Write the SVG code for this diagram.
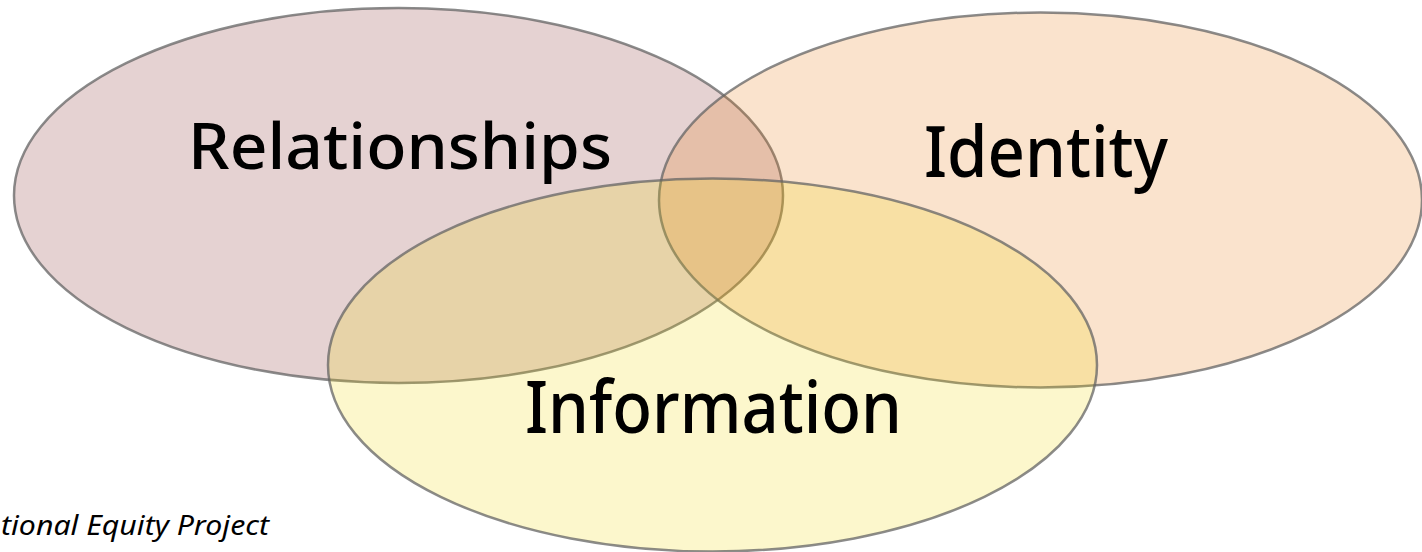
<svg xmlns="http://www.w3.org/2000/svg" width="1422" height="552" viewBox="0 0 1422 552">
<style>
.c{stroke:rgb(100,100,100);stroke-opacity:0.75;stroke-width:2.5;fill-opacity:0.2}
.t{font-family:"Noto Sans",Lato,sans-serif;fill:#000;font-variant-ligatures:none;font-weight:500}
</style>
<rect width="1422" height="552" fill="#fff"/>
<g id="relationships">
<ellipse class="c" cx="398.5" cy="195.5" rx="384.5" ry="187.5" fill="rgb(125,30,30)"/>
<text class="t" x="188" y="169" font-size="64" textLength="424" lengthAdjust="spacingAndGlyphs">Relationships</text>
</g>
<g id="identity">
<ellipse class="c" cx="1040.5" cy="200" rx="381.5" ry="187.5" fill="rgb(230,115,5)"/>
<text class="t" x="924" y="177" font-size="70" textLength="244" lengthAdjust="spacingAndGlyphs">Identity</text>
</g>
<g id="information">
<ellipse class="c" cx="712.5" cy="365" rx="384.5" ry="186.5" fill="rgb(240,215,0)"/>
<text class="t" x="525" y="433" font-size="72" textLength="377" lengthAdjust="spacingAndGlyphs">Information</text>
</g>
<g id="connectors"/>
<text x="1" y="535" font-family="'Noto Sans',Lato,sans-serif" font-style="italic" font-size="27" textLength="268" lengthAdjust="spacingAndGlyphs" fill="#000">tional Equity Project</text>
</svg>
